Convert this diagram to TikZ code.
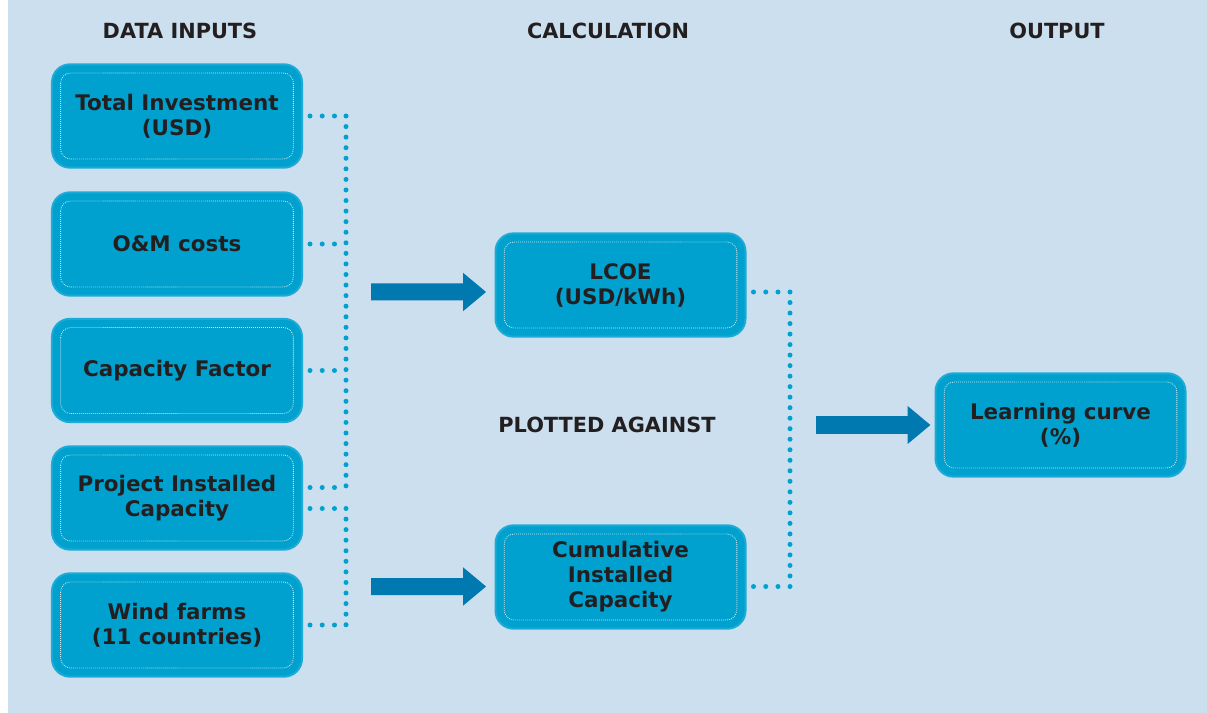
\documentclass[tikz,border=0pt]{standalone}
\usepackage{fontspec}
\setmainfont{DejaVu Sans}
\usetikzlibrary{arrows.meta}
\definecolor{bgblue}{RGB}{204,223,239}
\definecolor{boxblue}{RGB}{0,161,206}
\definecolor{boxedge}{RGB}{28,171,214}
\definecolor{arrowblue}{RGB}{0,120,176}
\definecolor{inktext}{RGB}{35,31,32}
\tikzset{
  inputbox/.style={draw=boxedge, line width=0.06cm, fill=boxblue, rounded corners=0.54cm,
    minimum width=7.5cm, minimum height=3.1cm, align=center, text=inktext, inner sep=0pt,
    font={\fontsize{18.3pt}{21.3pt}\selectfont\bfseries}},
  innerline/.style={draw=white!80!boxblue, line width=0.025cm, densely dotted, rounded corners=0.3cm},
  dotsh/.style={draw=boxblue, line width=0.15cm, line cap=round, dash pattern=on 0pt off 0.367cm},
  dotsv/.style={draw=boxblue, line width=0.15cm, line cap=round, dash pattern=on 0pt off #1},
  dotsv/.default=0.317cm,
  bigarrow/.style={draw=arrowblue, line width=0.51cm, -{Triangle[width=1.1cm,length=0.69cm]}},
  heading/.style={text=inktext, inner sep=0pt, font={\fontsize{17.8pt}{21pt}\selectfont\bfseries}}
}
\begin{document}
\begin{tikzpicture}[x=0.03cm, y=-0.03cm]
                \useasboundingbox (0,0) rectangle (1207,713);
                
                % Background panel
                \fill[white] (0,0) rectangle (1207,713);
                \fill[bgblue] (8,0) rectangle (1207,713);
                
                % Column headings
                \node[heading] (hinputs) at (180,31) {DATA INPUTS};
                \node[heading] (hcalc) at (608,31) {CALCULATION};
                \node[heading] (hout) at (1057,31) {OUTPUT};
                \node[heading] (plotted) at (607,425) {PLOTTED AGAINST};
                
                % Data input boxes
                \node[inputbox] (tinv) at (177,116) {Total Investment\\(USD)};
                \node[inputbox] (om) at (177,244) {O\&M costs};
                \node[inputbox] (capf) at (177,370.5) {Capacity Factor};
                \node[inputbox] (pic) at (177,498) {Project Installed\\Capacity};
                \node[inputbox] (wind) at (177,625) {Wind farms\\(11 countries)};
                
                % Calculation boxes
                \node[inputbox] (lcoe) at (620.5,285) {LCOE\\(USD/kWh)};
                \node[inputbox] (cic) at (620.5,577) {Cumulative\\Installed\\Capacity};
                
                % Output box
                \node[inputbox] (learn) at (1060.5,425) {Learning curve\\(\%)};
                
                % Inner dotted frames
                \foreach \b in {tinv,om,capf,pic,wind,lcoe,cic,learn}
                  \draw[innerline] ([shift={(0.29cm,-0.29cm)}]\b.north west) rectangle ([shift={(-0.29cm,0.29cm)}]\b.south east);
                
                % Bus coordinates
                \coordinate (busA) at (346,300);
                \coordinate (busB) at (790,440);
                \coordinate (picUp) at ([yshift=0.315cm]pic.east);
                \coordinate (picDn) at ([yshift=-0.315cm]pic.east);
                \coordinate (lcoeOut) at ([yshift=-0.21cm]lcoe.east);
                \coordinate (cicOut) at ([yshift=-0.285cm]cic.east);
                \coordinate (lcoeIn) at ([yshift=-0.21cm]lcoe.west);
                \coordinate (cicIn) at ([yshift=-0.285cm]cic.west);
                
                % Dotted stubs from the inputs
                \draw[dotsh] ([xshift=0.21cm]tinv.east) -- (tinv.east -| busA);
                \draw[dotsh] ([xshift=0.21cm]om.east) -- (om.east -| busA);
                \draw[dotsh] ([xshift=0.21cm]capf.east) -- (capf.east -| busA);
                \draw[dotsh] ([xshift=0.21cm]picUp) -- (picUp -| busA);
                \draw[dotsh] ([xshift=0.21cm]picDn) -- (picDn -| busA);
                \draw[dotsh] ([xshift=0.21cm]wind.east) -- (wind.east -| busA);
                
                % Dotted buses on the left
                \draw[dotsv] (tinv.east -| busA) -- (picUp -| busA);
                \draw[dotsv] (picDn -| busA) -- (wind.east -| busA);
                
                % Dotted bracket on the right
                \draw[dotsh] ([xshift=0.21cm]lcoeOut) -- (lcoeOut -| busB);
                \draw[dotsh] ([xshift=0.21cm]cicOut) -- (cicOut -| busB);
                \draw[dotsv=0.3155cm] (lcoeOut -| busB) -- (cicOut -| busB);
                
                % Thick arrows
                \coordinate (arrA) at (371,292);
                \coordinate (arrB) at (371,586.5);
                \coordinate (arrC) at (816,425);
                \draw[bigarrow, shorten >=0.25cm] (arrA) -- (lcoeIn);
                \draw[bigarrow, shorten >=0.25cm] (arrB) -- (cicIn);
                \draw[bigarrow, shorten >=0.12cm] (arrC) -- (learn.west);
            \end{tikzpicture}
\end{document}
